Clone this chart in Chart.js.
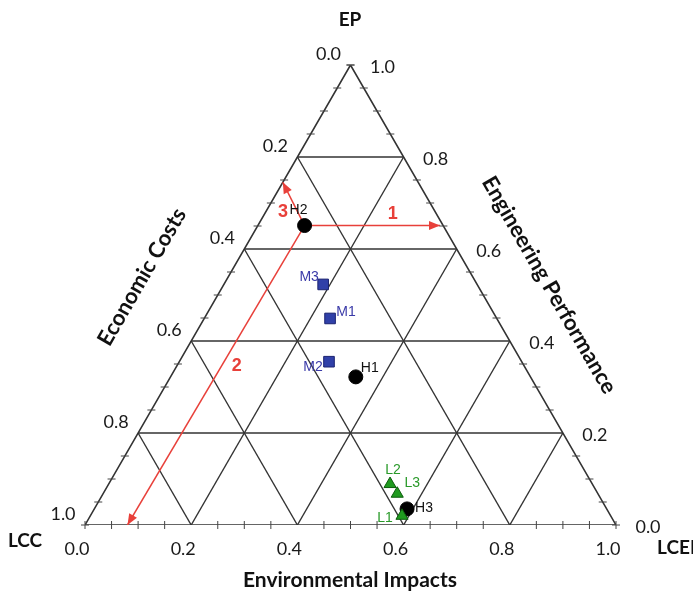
<html>

<head>
  <script src="https://cdn.jsdelivr.net/npm/chart.js"></script>
  <style>
    body { margin: 0; background: #fff; }
  </style>
</head>

<body>
  <canvas id="myChart" width="693" height="591"></canvas>
  <script>
    // ternary values for each design: EP (top), LCC (bottom left), LCEI (bottom right)
    const hNames = ['H1', 'H2', 'H3'];
    const hEP = [0.322, 0.651, 0.035];
    const hLCC = [0.329, 0.261, 0.376];
    const hLCEI = [0.349, 0.088, 0.589];

    const mNames = ['M1', 'M2', 'M3'];
    const mEP = [0.449, 0.355, 0.523];
    const mLCC = [0.314, 0.363, 0.290];
    const mLCEI = [0.237, 0.282, 0.187];

    const lNames = ['L1', 'L2', 'L3'];
    const lEP = [0.020, 0.089, 0.068];
    const lLCC = [0.393, 0.381, 0.378];
    const lLCEI = [0.587, 0.530, 0.554];

    // arrows start at H2, [EP, LCEI] of the end points
    const arrowNames = ['1', '2', '3'];
    const arrowEnds = [[0.651, 0.343], [0.0, 0.080], [0.745, 0.0]];
    const arrowLabelAt = [[0.675, 0.242], [0.346, 0.113], [0.680, 0.033]];

    const gridValues = [0.2, 0.4, 0.6, 0.8];
    const tickLabels = ['0.0', '0.2', '0.4', '0.6', '0.8', '1.0'];
    const tickValues = [0, 0.2, 0.4, 0.6, 0.8, 1.0];

    const S3 = Math.sqrt(3) / 2;
    const toXY = (ep, lcei) => ({ x: lcei + ep / 2, y: ep * S3 });
    const seg = (a, b) => [toXY(a[0], a[1]), toXY(b[0], b[1])];

    var datasets = [];
    var lineStyle = { showLine: true, pointRadius: 0, borderColor: '#333', borderWidth: 1.4, fill: false };

    // points first so they sit on top
    datasets.push({
      label: 'L', data: lEP.map((e, i) => toXY(e, lLCEI[i])), pointStyle: 'triangle', pointRadius: 7,
      backgroundColor: '#1f9a1f', borderColor: '#0c5c0c', borderWidth: 1
    });
    datasets.push({
      label: 'H', data: hEP.map((e, i) => toXY(e, hLCEI[i])), pointStyle: 'circle', pointRadius: 7,
      backgroundColor: '#000', borderColor: '#000', borderWidth: 1
    });
    datasets.push({
      label: 'M', data: mEP.map((e, i) => toXY(e, mLCEI[i])), pointStyle: 'rect', pointRadius: 7.5,
      backgroundColor: '#3040a8', borderColor: '#1a2270', borderWidth: 1
    });

    const start = [hEP[1], hLCEI[1]];
    arrowEnds.forEach(end => {
      datasets.push(Object.assign({}, lineStyle, { data: seg(start, end), borderColor: '#e8403a', borderWidth: 1.5 }));
    });

    gridValues.forEach(v => {
      datasets.push(Object.assign({}, lineStyle, { data: seg([v, 0], [v, 1 - v]) }));
      datasets.push(Object.assign({}, lineStyle, { data: seg([0, v], [1 - v, v]) }));
      datasets.push(Object.assign({}, lineStyle, { data: seg([0, 1 - v], [1 - v, 0]) }));
    });
    datasets.push(Object.assign({}, lineStyle, { data: [toXY(0, 0), toXY(0, 1), toXY(1, 0), toXY(0, 0)], borderWidth: 1.6 }));

    const labelOffsets = {
      H1: [14, -9], H2: [-6, -15], H3: [17, -1],
      M1: [16, -6], M2: [-16, 5], M3: [-14, -7],
      L1: [-17, 2], L2: [3, -14], L3: [15, -11]
    };

    const overlay = {
      id: 'overlay',
      afterDatasetsDraw(chart) {
        const ctx = chart.ctx, xs = chart.scales.x, ys = chart.scales.y;
        const px = (ep, lcei) => { const p = toXY(ep, lcei); return [xs.getPixelForValue(p.x), ys.getPixelForValue(p.y)]; };
        ctx.save();

        // small ticks every 0.05
        ctx.strokeStyle = '#444';
        ctx.lineWidth = 1;
        for (let k = 0; k <= 20; k++) {
          if (k % 4 == 0 && k != 0 && k != 20) continue;
          const v = k / 20;
          let p = px(0, v);
          ctx.beginPath(); ctx.moveTo(p[0], p[1] - 4); ctx.lineTo(p[0], p[1] + 4); ctx.stroke();
          p = px(1 - v, 0);
          ctx.beginPath(); ctx.moveTo(p[0] - 4, p[1]); ctx.lineTo(p[0] + 4, p[1]); ctx.stroke();
          p = px(v, 1 - v);
          ctx.beginPath(); ctx.moveTo(p[0] - 4, p[1]); ctx.lineTo(p[0] + 4, p[1]); ctx.stroke();
        }

        // tick labels
        ctx.fillStyle = '#1a1a1a';
        ctx.font = '18px Lato';
        ctx.textAlign = 'center';
        ctx.textBaseline = 'middle';
        tickValues.forEach((v, i) => {
          let p = px(0, v);
          ctx.fillText(tickLabels[i], p[0] - 8, p[1] + 24);
          p = px(1 - v, 0);
          ctx.fillText(tickLabels[i], p[0] - 22, p[1] - 11);
          p = px(v, 1 - v);
          ctx.fillText(tickLabels[i], p[0] + 32, p[1] + 2);
        });

        // axis titles
        ctx.font = 'bold 19px Lato';
        ctx.fillStyle = '#111';
        ctx.fillText('EP', 350, 20);
        ctx.fillText('LCC', 25, 541);
        ctx.textAlign = 'left';
        ctx.fillText('LCEI', 657, 548);
        ctx.textAlign = 'center';
        ctx.font = 'bold 21px Lato';
        ctx.fillText('Environmental Impacts', 350, 580);
        ctx.font = 'bold 22px Lato';
        ctx.save();
        ctx.translate(142, 277); ctx.rotate(-Math.PI / 3);
        ctx.fillText('Economic Costs', 0, 0);
        ctx.restore();
        ctx.save();
        ctx.translate(549, 285); ctx.rotate(Math.PI / 3);
        ctx.fillText('Engineering Performance', 0, 0);
        ctx.restore();

        // arrow heads and numbers
        ctx.fillStyle = '#e8403a';
        const s = px(start[0], start[1]);
        arrowEnds.forEach((end, i) => {
          const e = px(end[0], end[1]);
          const a = Math.atan2(e[1] - s[1], e[0] - s[0]);
          ctx.beginPath();
          ctx.moveTo(e[0], e[1]);
          ctx.lineTo(e[0] - 11 * Math.cos(a) + 4.5 * Math.sin(a), e[1] - 11 * Math.sin(a) - 4.5 * Math.cos(a));
          ctx.lineTo(e[0] - 11 * Math.cos(a) - 4.5 * Math.sin(a), e[1] - 11 * Math.sin(a) + 4.5 * Math.cos(a));
          ctx.closePath();
          ctx.fill();
          const l = px(arrowLabelAt[i][0], arrowLabelAt[i][1]);
          ctx.font = 'bold 18px "Liberation Sans"';
          ctx.fillText(arrowNames[i], l[0], l[1]);
        });

        // point labels
        ctx.font = '14px "Liberation Sans"';
        const lab = (names, eps, leis, color) => {
          ctx.fillStyle = color;
          names.forEach((n, i) => {
            const p = px(eps[i], leis[i]);
            ctx.fillText(n, p[0] + labelOffsets[n][0], p[1] + labelOffsets[n][1]);
          });
        };
        lab(hNames, hEP, hLCEI, '#111');
        lab(mNames, mEP, mLCEI, '#3a3aa8');
        lab(lNames, lEP, lLCEI, '#2a9a2a');
        ctx.restore();
      }
    };

    var ctx = document.getElementById('myChart').getContext('2d');
    var grafica = new Chart(ctx, {
      type: 'scatter',
      data: { datasets: datasets },
      options: {
        responsive: false,
        animation: false,
        layout: { padding: { left: 85, right: 77, top: 65, bottom: 66 } },
        scales: {
          x: { type: 'linear', min: 0, max: 1, display: false },
          y: { type: 'linear', min: 0, max: S3, display: false }
        },
        plugins: { legend: { display: false }, tooltip: { enabled: false } }
      },
      plugins: [overlay]
    });
  </script>
</body>

</html>
